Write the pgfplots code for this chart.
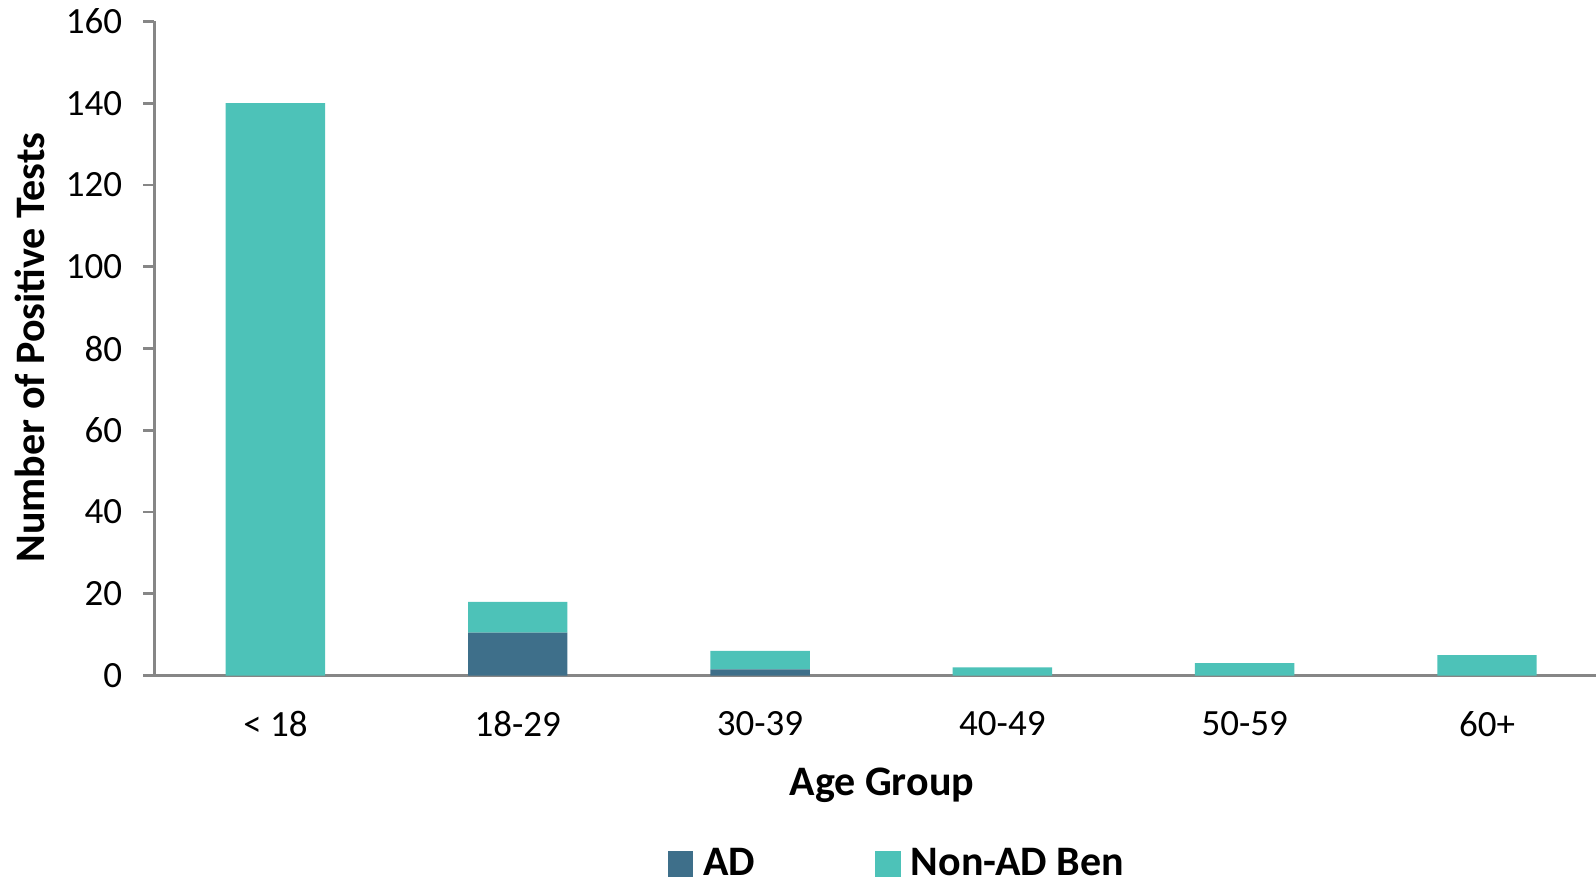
\documentclass[border=0pt]{standalone}
\usepackage{pgfplots}
\pgfplotsset{compat=1.18}
\usepackage{fontspec}
\setmainfont{Carlito}

\definecolor{adblue}{RGB}{62,111,138}
\definecolor{nonad}{RGB}{77,194,184}
\definecolor{axgray}{RGB}{134,134,134}

\begin{document}
\begin{tikzpicture}
\path[use as bounding box] (-77.15pt,-103.75pt) rectangle (720.85pt,337.75pt);
\begin{axis}[
  scale only axis, width=720.85pt, height=327pt,
  ybar stacked, bar width=49.7pt,
  xmin=-0.5, xmax=5.45, ymin=0, ymax=160,
  axis x line=bottom, axis y line=left,
  axis line style={-, axgray, line width=1.3pt},
  xtick={0,...,5},
  xticklabels={< 18,18-29,30-39,40-49,50-59,60+},
  x tick style={draw=none},
  extra x ticks={-0.5,0.5,1.5,2.5,3.5,4.5},
  extra x tick labels={},
  extra x tick style={tick align=outside, major tick length=5.5pt,
    tick style={axgray, line width=1.3pt}},
  ytick={0,20,...,160},
  y tick style={axgray, line width=1.3pt},
  tick align=outside, major tick length=5.5pt,
  /pgf/number format/assume math mode=true,
  tick label style={font=\fontsize{18.5}{22}\selectfont, black},
  xticklabel style={yshift=-9pt},
  yticklabel style={xshift=-7pt},
  xlabel={\textbf{Age Group}},
  ylabel={\textbf{Number of Positive Tests}},
  label style={font=\fontsize{21}{25}\selectfont},
  every axis x label/.append style={at={(363.8pt,-55pt)}, anchor=center},
  every axis y label/.append style={at={(-62pt,164pt)}, anchor=center},
  legend style={at={(371.7pt,-94pt)}, anchor=center, draw=none,
    legend columns=2, font=\fontsize{21}{25}\selectfont\bfseries,
    /tikz/every even column/.append style={column sep=58pt}},
  legend image code/.code={\fill[#1] (0pt,-6.5pt) rectangle (12.8pt,6.3pt);},
  legend cell align=left,
]
\addplot[draw=none, fill=adblue] coordinates {(0,0) (1,10.5) (2,1.5) (3,0) (4,0) (5,0)};
\addplot[draw=none, fill=nonad] coordinates {(0,140) (1,7.5) (2,4.5) (3,2) (4,3) (5,5)};
\legend{\hspace{3pt}AD,\hspace{3pt}Non-AD Ben}
\end{axis}
\end{tikzpicture}
\end{document}
